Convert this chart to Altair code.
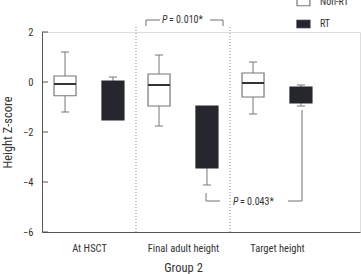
import altair as alt
import pandas as pd

# ---- data ----
groups = ["At HSCT", "Final adult height", "Target height"]
series = ["Non-RT", "RT", "Non-RT", "RT", "Non-RT", "RT"]
centers = [0.5, 0.5, 1.5, 1.5, 2.5, 2.5]
offsets = [-0.255, 0.255, -0.255, 0.255, -0.255, 0.255]
whisk_hi = [1.2, 0.2, 1.08, -0.96, 0.8, -0.12]
q3 = [0.24, 0.04, 0.32, -0.96, 0.36, -0.2]
median = [-0.08, -1.52, -0.12, -3.44, -0.04, -0.84]
q1 = [-0.55, -1.52, -0.96, -3.44, -0.6, -0.84]
whisk_lo = [-1.2, -1.52, -1.76, -4.12, -1.28, -0.96]

y_ticks = [2, 0, -2, -4, -6]
legend_labels = ["Non-RT", "RT"]
legend_y = [3.2, 2.32]

p_labels = ["= 0.010*", "= 0.043*"]
p_x = [1.277, 2.032]
p_y = [2.48, -4.8]

# bracket segments (annotation geometry)
br_x = [1.106, 1.106, 1.787, 1.926, 1.745, 1.745, 2.617, 2.766]
br_x2 = [1.106, 1.255, 1.926, 1.926, 1.745, 1.894, 2.766, 2.766]
br_y = [2.48, 2.48, 2.48, 2.48, -4.44, -4.76, -4.76, -4.76]
br_y2 = [2.24, 2.48, 2.48, 2.24, -4.76, -4.76, -4.76, -1.12]

BW = 0.117   # half box width
CW = 0.043   # half cap width
FONT = "Liberation Sans Narrow, Roboto Condensed, Arial Narrow, Roboto, sans-serif"
GRAY = "#777777"
DARK = "#26272e"
TXT = "#333333"

pos = [c + o for c, o in zip(centers, offsets)]
df = pd.DataFrame({
    "series": series, "pos": pos,
    "xl": [p - BW for p in pos], "xr": [p + BW for p in pos],
    "cl": [p - CW for p in pos], "cr": [p + CW for p in pos],
    "whi": whisk_hi, "q3": q3, "med": median, "q1": q1, "wlo": whisk_lo,
})

xs = alt.Scale(domain=[0, 3.383], nice=False, zero=False)
ys = alt.Scale(domain=[-6, 2], nice=False, zero=False)

label_expr = ("datum.value < 1 ? '" + groups[0] + "' : datum.value < 2 ? '" + groups[1]
              + "' : '" + groups[2] + "'")
x_axis = alt.Axis(values=[0.5, 1.5, 2.5], ticks=False, grid=False, labelExpr=label_expr,
                  domainColor="#555555", labelFont=FONT, labelFontSize=10.5, labelColor=TXT,
                  labelPadding=11, title="Group 2", titleFont=FONT, titleFontSize=12.5,
                  titleFontWeight="normal", titleColor=TXT,
                  titleX=141, titleY=35, titleAlign="center", titleBaseline="middle")
y_axis = alt.Axis(values=y_ticks, ticks=False, grid=False, domainColor="#555555",
                  labelFont=FONT, labelFontSize=10.5, labelColor=TXT, labelPadding=9,
                  title="Height Z-score", titleFont=FONT, titleFontSize=12.5,
                  titleFontWeight="normal", titleColor=TXT,
                  titleX=-35, titleY=100, titleAlign="center", titleBaseline="middle")


def X(f):
    return alt.X(f, type="quantitative", scale=xs, axis=x_axis)


def Y(f):
    return alt.Y(f, type="quantitative", scale=ys, axis=y_axis)


base = alt.Chart(df)

axes_layer = alt.Chart(pd.DataFrame({"t": y_ticks})).mark_rule(color="#555555").encode(
    x=X("x0"), x2="x1:Q", y=Y("t"),
).transform_calculate(x0="0", x1="0.064")

upper = base.mark_rule(color=GRAY).encode(x=X("pos"), y=Y("q3"), y2="whi:Q")
lower = base.mark_rule(color=GRAY).encode(x=X("pos"), y=Y("q1"), y2="wlo:Q")
cap_hi = base.transform_filter("datum.whi != datum.q3").mark_rule(color=GRAY).encode(
    x=X("cl"), x2="cr:Q", y=Y("whi"))
cap_lo = base.transform_filter("datum.wlo != datum.q1").mark_rule(color=GRAY).encode(
    x=X("cl"), x2="cr:Q", y=Y("wlo"))

fill_s = alt.Scale(domain=["Non-RT", "RT"], range=["#ffffff", DARK])
stroke_s = alt.Scale(domain=["Non-RT", "RT"], range=[GRAY, DARK])

boxes = base.mark_rect(strokeWidth=1.2).encode(
    x=X("xl"), x2="xr:Q", y=Y("q3"), y2="q1:Q",
    fill=alt.Fill("series:N", scale=fill_s, legend=None),
    stroke=alt.Stroke("series:N", scale=stroke_s, legend=None),
)
meds = base.transform_filter("datum.series == 'Non-RT'").mark_rule(color=TXT, strokeWidth=2).encode(
    x=X("xl"), x2="xr:Q", y=Y("med"))

dotted = alt.Chart(pd.DataFrame({"d": [1.0, 2.0]})).mark_rule(
    color="#888888", strokeDash=[1, 2], strokeWidth=1).encode(
    x=X("d"), y=Y("y0"), y2="y1:Q",
).transform_calculate(y0="-6", y1="2.2")

brackets = alt.Chart(pd.DataFrame({"x": br_x, "x2": br_x2, "y": br_y, "y2": br_y2})).mark_rule(
    color="#888888", strokeWidth=1.2).encode(x=X("x"), x2="x2:Q", y=Y("y"), y2="y2:Q")

pdf = pd.DataFrame({"lab": p_labels, "x": p_x, "y": p_y})
p_italic = alt.Chart(pdf).mark_text(text="P", font=FONT, fontSize=10, fontStyle="italic",
                                    align="left", baseline="middle", color=TXT).encode(
    x=X("x"), y=Y("y"))
p_rest = alt.Chart(pdf).mark_text(font=FONT, fontSize=10, align="left", baseline="middle",
                                  dx=7, color=TXT).encode(x=X("x"), y=Y("y"), text="lab:N")

ldf = pd.DataFrame({"series": legend_labels, "y": legend_y})
leg_sq = alt.Chart(ldf).mark_rect(strokeWidth=1.2).encode(
    x=X("a"), x2="b:Q", y=Y("ya"), y2="yb:Q",
    fill=alt.Fill("series:N", scale=fill_s, legend=None),
    stroke=alt.Stroke("series:N", scale=stroke_s, legend=None),
).transform_calculate(a="2.713", b="2.85", ya="datum.y + 0.15", yb="datum.y - 0.15")
leg_txt = alt.Chart(ldf).mark_text(font=FONT, fontSize=10, align="left", baseline="middle",
                                   color=TXT).encode(x=X("a"), y=Y("y"), text="series:N",
                                                     ).transform_calculate(a="2.957")

chart = alt.layer(axes_layer, dotted, upper, lower, cap_hi, cap_lo, boxes, meds,
                  brackets, p_italic, p_rest, leg_sq, leg_txt).properties(
    width=318, height=200,
    autosize=alt.AutoSizeParams(type="none"),
    padding={"left": 42, "top": 32, "right": 1, "bottom": 42},
).configure_view(stroke=None).configure(background="white")

chart.save("out.html", embed_options={"renderer": "svg", "actions": False})
